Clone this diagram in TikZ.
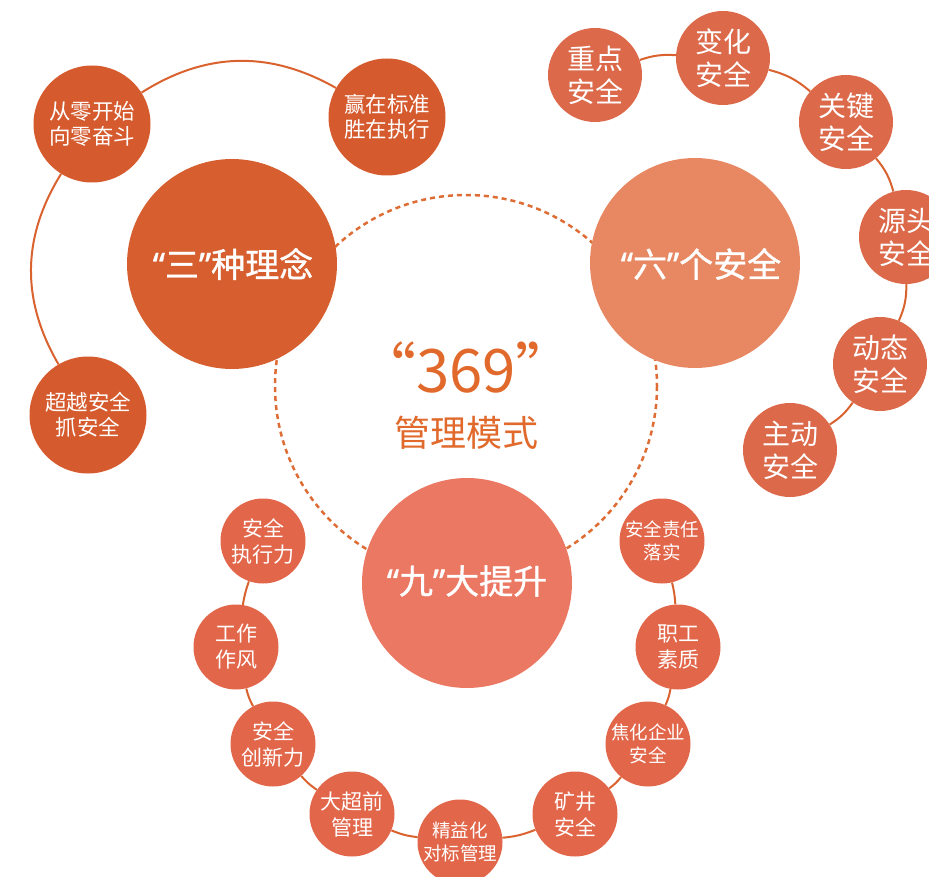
\documentclass[tikz,border=0pt]{standalone}
\usepackage{fontspec}
\newfontfamily\cjk{Noto Sans CJK SC}
\newfontfamily\cjkb{Noto Sans CJK SC}[FakeBold=1.0]
\newfontfamily\qfont{Noto Sans}[FakeBold=1.0]
\newcommand\oqt{{\qfont “}}
\newcommand\cqt{{\qfont ”}}
\definecolor{cAbig}{HTML}{D75F2F}
\definecolor{cAsm}{HTML}{D55A2D}
\definecolor{cBbig}{HTML}{E88862}
\definecolor{cBsm}{HTML}{DB694A}
\definecolor{cCbig}{HTML}{EB7862}
\definecolor{cCsm}{HTML}{E2664A}
\definecolor{linec}{HTML}{D9622F}
\definecolor{dashc}{HTML}{DE6D35}
\definecolor{titlec}{HTML}{E0692B}
\tikzset{
  bigc/.style={circle, minimum size=210pt, inner sep=0pt},
  sA/.style={circle, fill=cAsm, minimum size=117pt, inner sep=0pt, text=white, align=center, font=\cjk\fontsize{21.5}{25}\selectfont},
  sB/.style={circle, fill=cBsm, minimum size=94pt, inner sep=0pt, text=white, align=center, font=\cjk\fontsize{28}{33}\selectfont},
  sC/.style={circle, fill=cCsm, minimum size=85pt, inner sep=0pt, text=white, align=center, font=\cjk\fontsize{21}{26}\selectfont},
  sCs/.style={sC, font=\cjk\fontsize{18.5}{23}\selectfont},
  ring/.style={draw=linec, line width=2pt},
  bigtext/.style={text=white, inner sep=0pt, font=\cjkb\fontsize{34}{40}\selectfont},
}
\begin{document}
\begin{tikzpicture}[x=1pt, y=-1pt]
\useasboundingbox (0,0) rectangle (929,877);
% dashed main circle
\coordinate (ctr) at (466,386);
\draw[dashc, line width=2.5pt, dash pattern=on 5pt off 4pt] (ctr) circle[radius=191];
% big circles
\node[bigc, fill=cAbig] (n3) at (232,264) {};
\node[bigc, fill=cBbig] (n6) at (695,263) {};
\node[bigc, fill=cCbig] (n9) at (467,583) {};
% group 1
\node[sA] (a1) at (92,124) {从零开始\\向零奋斗};
\node[sA] (a2) at (387,117) {赢在标准\\胜在执行};
\node[sA] (a3) at (88,415) {超越安全\\抓安全};
% group 2
\node[sB] (b1) at (595,75) {重点\\安全};
\node[sB] (b2) at (723,58) {变化\\安全};
\node[sB] (b3) at (846,122) {关键\\安全};
\node[sB] (b4) at (906,237) {源头\\安全};
\node[sB] (b5) at (880,364) {动态\\安全};
\node[sB] (b6) at (790,450) {主动\\安全};
% group 3
\node[sC] (c1) at (263,541) {安全\\执行力};
\node[sC] (c2) at (236,647) {工作\\作风};
\node[sC] (c3) at (273,744) {安全\\创新力};
\node[sC] (c4) at (352,814) {大超前\\管理};
\node[sCs] (c5) at (460,842) {精益化\\对标管理};
\node[sC] (c6) at (575,814) {矿井\\安全};
\node[sCs] (c7) at (648,744) {焦化企业\\安全};
\node[sC] (c8) at (678,647) {职工\\素质};
\node[sCs] (c9) at (662,541) {安全责任\\落实};
% connectors
\draw[ring] (a2) to[bend right=31] (a1);
\draw[ring] (a1) to[bend right=31] (a3);
\draw[ring] (b1) to[bend left=11] (b2);
\draw[ring] (b2) to[bend left=13] (b3);
\draw[ring] (b3) to[bend left=12] (b4);
\draw[ring] (b4) to[bend left=12] (b5);
\draw[ring] (b5) to[bend left=11] (b6);
\draw[ring] (c1) to[bend right=5] (c2);
\draw[ring] (c2) to[bend right=7] (c3);
\draw[ring] (c3) to[bend right=7] (c4);
\draw[ring] (c4) to[bend right=8] (c5);
\draw[ring] (c5) to[bend right=8] (c6);
\draw[ring] (c6) to[bend right=7] (c7);
\draw[ring] (c7) to[bend right=7] (c8);
\draw[ring] (c8) to[bend right=5] (c9);
% big labels
\node[bigtext] (t3) at (233,264) {\oqt 三\cqt 种理念};
\node[bigtext] (t6) at (701,264) {\oqt 六\cqt 个安全};
\node[bigtext] (t9) at (467,581) {\oqt 九\cqt 大提升};
\node[text=titlec, font=\cjk\fontsize{60}{66}\selectfont] (t369) at (466,367) {“369”};
\node[text=titlec, font=\cjk\fontsize{36}{40}\selectfont] (tmode) at (466,433) {管理模式};
\end{tikzpicture}
\end{document}
